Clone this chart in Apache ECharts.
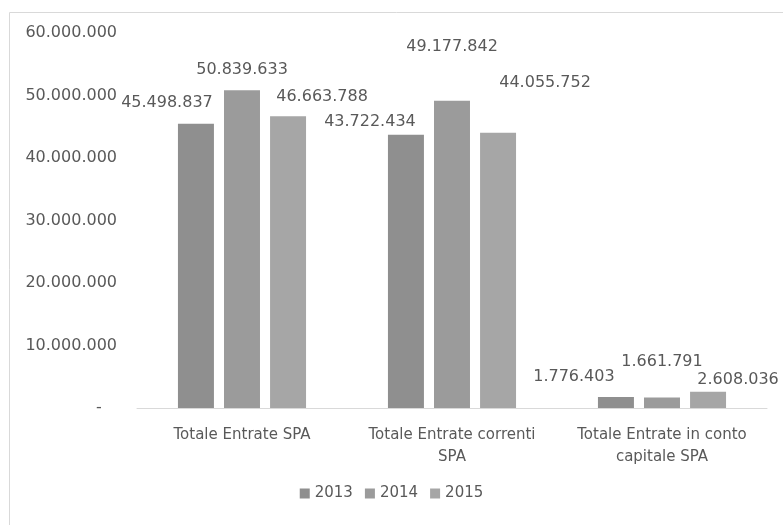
<!DOCTYPE html>
<html>
<head>
<meta charset="utf-8">
<script src="https://cdn.jsdelivr.net/npm/echarts@6/dist/echarts.min.js"></script>
<style>
  html, body { margin: 0; padding: 0; background: #fff; }
  #chart { width: 783px; height: 525px; }
</style>
</head>
<body>
<div id="chart"></div>
<script>
const categories = ['Totale Entrate SPA', 'Totale Entrate correnti\nSPA', 'Totale Entrate in conto\ncapitale SPA']
const years = ['2013', '2014', '2015']
const values2013 = [45498837, 43722434, 1776403]
const values2014 = [50839633, 49177842, 1661791]
const values2015 = [46663788, 44055752, 2608036]
const yTicks = { min: 0, max: 60000000, interval: 10000000 }

// label positions were dragged by hand in the original, keep them apart
const labelOffsets = [
  [[-29, -8], [-36, 0], [-42, -7]],
  [[0, -7], [0, -41], [0, -23]],
  [[34, -7], [47, -37], [30, 1]],
]
const colors = ['#8f8f8f', '#9b9b9b', '#a6a6a6']
const textColor = '#595959'
const font = 'DejaVu Sans'

const fmt = (v) => String(Math.round(v)).replace(/\B(?=(\d{3})+(?!\d))/g, '.')

const myChart = echarts.init(document.getElementById('chart'))

const seriesData = [values2013, values2014, values2015]

const option = {
  animation: false,
  textStyle: { fontFamily: font },
  graphic: [
    {
      type: 'rect',
      left: 7,
      top: 10,
      shape: { width: 800, height: 600 },
      style: { fill: 'none', stroke: '#d9d9d9', lineWidth: 1 },
      silent: true,
    },
  ],
  grid: { left: 137, right: 16, top: 33, bottom: 117 },
  legend: {
    bottom: 19,
    left: 'center',
    icon: 'rect',
    itemWidth: 10,
    itemHeight: 10,
    itemGap: 12,
    textStyle: { color: textColor, fontSize: 15, fontFamily: font },
    data: years,
  },
  xAxis: {
    type: 'category',
    data: categories,
    axisLine: { lineStyle: { color: '#d9d9d9', width: 1 } },
    axisTick: { show: false },
    axisLabel: { color: textColor, fontSize: 15, lineHeight: 22, margin: 16, interval: 0 },
  },
  yAxis: {
    type: 'value',
    min: yTicks.min,
    max: yTicks.max,
    interval: yTicks.interval,
    splitLine: { show: false },
    axisLine: { show: false },
    axisTick: { show: false },
    axisLabel: {
      color: textColor,
      fontSize: 16,
      margin: 20,
      formatter: (v) => (v === 0 ? '-   ' : fmt(v)),
    },
  },
  series: years.map((name, i) => {
    return {
      name: name,
      type: 'bar',
      barGap: '28%',
      barCategoryGap: '39%',
      itemStyle: { color: colors[i] },
      data: seriesData[i].map((v, j) => {
        return {
          value: v,
          label: { offset: labelOffsets[i][j] },
        }
      }),
      label: {
        show: true,
        position: 'top',
        color: textColor,
        fontSize: 16,
        formatter: (p) => fmt(p.value),
      },
    }
  }),
}

myChart.setOption(option)
</script>
</body>
</html>
